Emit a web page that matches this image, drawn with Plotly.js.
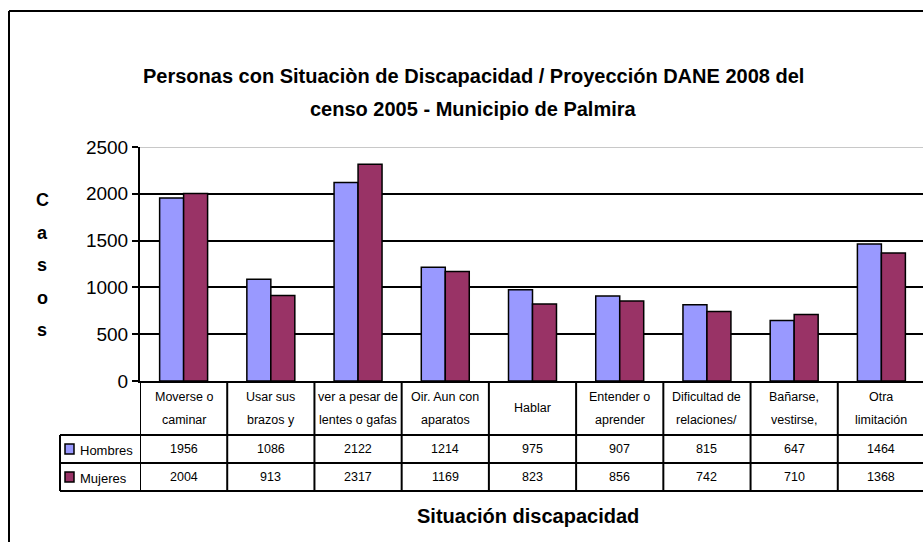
<!DOCTYPE html>
<html>
<head>
<meta charset="utf-8">
<script src="https://cdn.plot.ly/plotly-3.0.1.min.js"></script>
<style>
  html, body { margin: 0; padding: 0; overflow: hidden; background: #fff; }
  #chart { width: 935px; height: 542px; }
</style>
</head>
<body>
<div id="chart"></div>
<script>
// data
const categories = ["Moverse o<br>caminar", "Usar sus<br>brazos y", "ver a pesar de<br>lentes o gafas",
  "Oir. Aun con<br>aparatos", "Hablar", "Entender o<br>aprender", "Dificultad de<br>relaciones/",
  "Bañarse,<br>vestirse,", "Otra<br>limitación"];
const hombres = [1956, 1086, 2122, 1214, 975, 907, 815, 647, 1464];
const mujeres = [2004, 913, 2317, 1169, 823, 856, 742, 710, 1368];
const seriesNames = ["Hombres", "Mujeres"];
const seriesColors = ["#9999FF", "#993366"];

// plot geometry in pixels
const L = 140, R = 925, T = 147, B = 381;
const W = R - L, H = B - T;
const px = x => (x - L) / W;
const py = y => (B - y) / H;

const FONT = "Liberation Sans, Arial, sans-serif";
const idx = categories.map((_, i) => i);

const traces = [hombres, mujeres].map((vals, k) => ({
  type: "bar",
  x: idx,
  y: vals,
  name: seriesNames[k],
  marker: { color: seriesColors[k], line: { color: "#000", width: 1.5 } },
  hoverinfo: "y"
}));

const shapes = [];
const annotations = [];

// outer chart border (left + top)
shapes.push({ type: "line", xref: "paper", yref: "paper", x0: px(9), x1: px(940), y0: py(11), y1: py(11), line: { color: "#000", width: 2 } });
shapes.push({ type: "line", xref: "paper", yref: "paper", x0: px(9), x1: px(9), y0: py(11), y1: py(560), line: { color: "#000", width: 2 } });

// top of plot area is light grey
shapes.push({ type: "line", xref: "paper", yref: "y", x0: 0, x1: 1, y0: 2500, y1: 2500, line: { color: "#c8c8c8", width: 2 }, layer: "above" });

// data table lines
const rowLines = [435, 463, 491];
rowLines.forEach(y => shapes.push({ type: "line", xref: "paper", yref: "paper", x0: px(60), x1: px(940), y0: py(y), y1: py(y), line: { color: "#000", width: 2 } }));
shapes.push({ type: "line", xref: "paper", yref: "paper", x0: px(60), x1: px(60), y0: py(435), y1: py(491), line: { color: "#000", width: 2 } });
for (let i = 0; i <= categories.length; i++) {
  shapes.push({ type: "line", xref: "x", yref: "paper", x0: i - 0.5, x1: i - 0.5, y0: py(381), y1: py(491), line: { color: "#000", width: 2 } });
}

// category header text
categories.forEach((c, i) => {
  const parts = c.split("<br>");
  const ys = parts.length === 1 ? [408] : [397, 420];
  parts.forEach((p, j) => annotations.push({
    xref: "x", yref: "paper", x: i, y: py(ys[j]), text: p, showarrow: false,
    xanchor: "center", yanchor: "middle", font: { family: FONT, size: 12.5, color: "#000" }
  }));
});

// table values + legend keys
const rowY = [449, 477];
[hombres, mujeres].forEach((vals, k) => {
  vals.forEach((v, i) => annotations.push({
    xref: "x", yref: "paper", x: i, y: py(rowY[k]), text: String(v), showarrow: false,
    xanchor: "center", yanchor: "middle", font: { family: FONT, size: 12.5, color: "#000" }
  }));
  shapes.push({ type: "rect", xref: "paper", yref: "paper", x0: px(65), x1: px(74), y0: py(rowY[k] - 5), y1: py(rowY[k] + 5),
    fillcolor: seriesColors[k], line: { color: "#000", width: 1.5 } });
  annotations.push({ xref: "paper", yref: "paper", x: px(78), y: py(rowY[k] + 1), text: seriesNames[k], showarrow: false,
    xanchor: "left", yanchor: "middle", font: { family: FONT, size: 13, color: "#000" } });
});

// title lines
["Personas con Situaciòn de Discapacidad / Proyección DANE 2008 del", "censo 2005 - Municipio de Palmira"].forEach((t, j) => {
  annotations.push({ xref: "paper", yref: "paper", x: px(473), y: py([76, 109][j]), text: "<b>" + t + "</b>", showarrow: false,
    xanchor: "center", yanchor: "middle", font: { family: FONT, size: 20, color: "#000" } });
});

// y axis title, stacked letters
"Casos".split("").forEach((ch, j) => annotations.push({
  xref: "paper", yref: "paper", x: px(42), y: py(200 + j * 32.5), text: "<b>" + ch + "</b>", showarrow: false,
  xanchor: "center", yanchor: "middle", font: { family: FONT, size: 18, color: "#000" }
}));

// x axis title
annotations.push({ xref: "paper", yref: "paper", x: px(528), y: py(516), text: "<b>Situación discapacidad</b>", showarrow: false,
  xanchor: "center", yanchor: "middle", font: { family: FONT, size: 20, color: "#000" } });

const layout = {
  width: 935,
  height: 542,
  margin: { l: L, r: 935 - R, t: T, b: 542 - B },
  paper_bgcolor: "#fff",
  plot_bgcolor: "#fff",
  showlegend: false,
  barmode: "group",
  bargap: 0.45,
  bargroupgap: 0,
  font: { family: FONT, color: "#000" },
  xaxis: {
    type: "linear", range: [-0.5, categories.length - 0.5], showticklabels: false, showgrid: false,
    zeroline: false, showline: true, linecolor: "#000", linewidth: 2, ticks: "", automargin: false, fixedrange: true
  },
  yaxis: {
    range: [0, 2500], tickvals: [0, 500, 1000, 1500, 2000, 2500], showgrid: true, gridcolor: "#000", gridwidth: 2,
    zeroline: false, showline: true, linecolor: "#000", linewidth: 2, ticks: "outside", ticklen: 6, tickwidth: 2,
    tickcolor: "#000", tickfont: { family: FONT, size: 19, color: "#000" }, automargin: false, fixedrange: true
  },
  shapes: shapes,
  annotations: annotations
};

Plotly.newPlot("chart", traces, layout, { displayModeBar: false, staticPlot: true });
</script>
</body>
</html>
